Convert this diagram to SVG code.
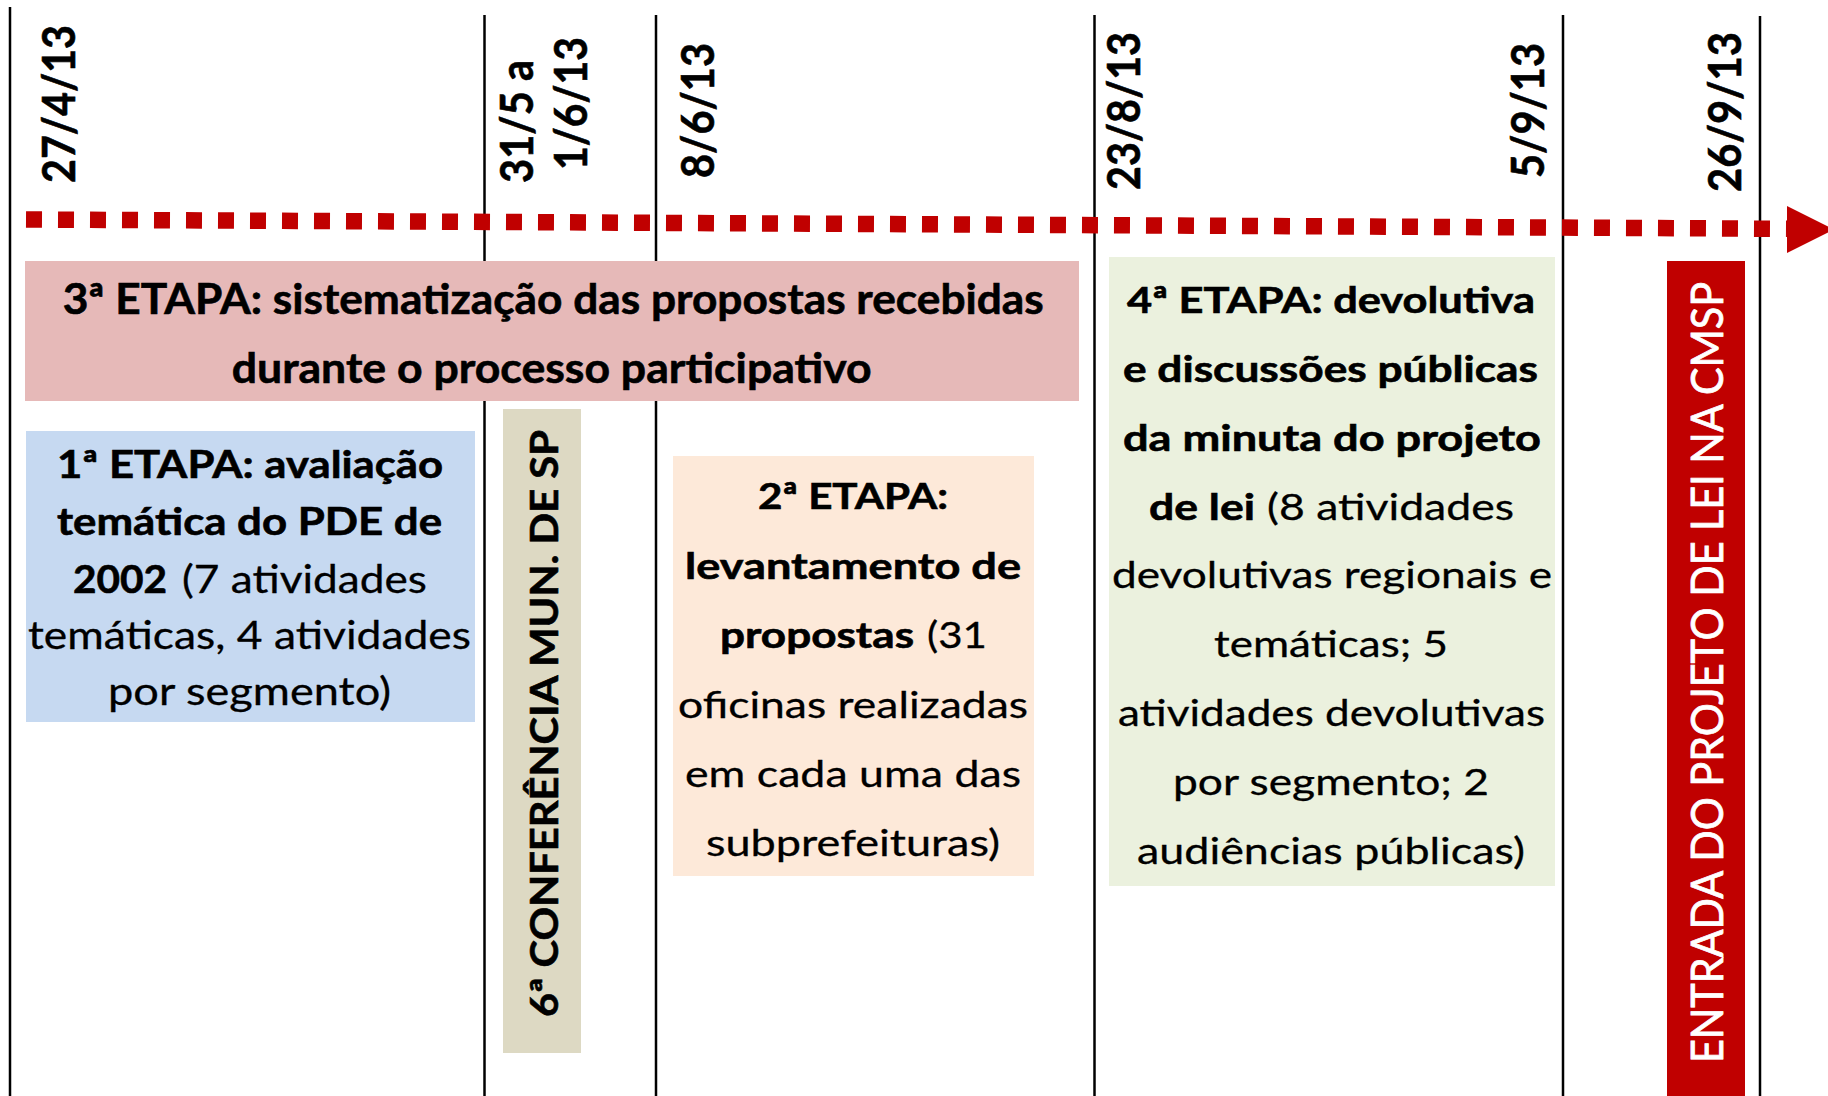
<svg xmlns="http://www.w3.org/2000/svg" width="1828" height="1096" viewBox="0 0 1828 1096">
<style>
.t{font-family:Lato,"Open Sans","Liberation Sans",sans-serif;fill:#000}
.b{font-weight:700;stroke:#000;stroke-width:0.6}
.r{font-weight:400;stroke:#000;stroke-width:0.3}
.vl{stroke:#000;stroke-width:2.5;fill:none}
</style>
<rect x="0" y="0" width="1828" height="1096" fill="#fff"/>
<g id="connectors">
  <line class="vl" x1="10" y1="7" x2="10" y2="1096"/>
  <line class="vl" x1="484.5" y1="15" x2="484.5" y2="1096"/>
  <line class="vl" x1="656" y1="15" x2="656" y2="1096"/>
  <line class="vl" x1="1094.5" y1="15" x2="1094.5" y2="1096"/>
  <line class="vl" x1="1563" y1="15" x2="1563" y2="1096"/>
  <line class="vl" x1="1760" y1="16" x2="1760" y2="1096"/>
  <line id="timeline" x1="26" y1="219.5" x2="1787" y2="228.8" stroke="#C00000" stroke-width="16.5" stroke-dasharray="16 16"/>
  <polygon id="arrowhead" points="1787,206 1787,253 1834,229.5" fill="#C00000"/>
</g>
<g id="dates" class="t b">
  <text transform="translate(75,183) rotate(-90)" font-size="46" textLength="158" lengthAdjust="spacingAndGlyphs">27/4/13</text>
  <text transform="translate(533,183) rotate(-90)" font-size="46" textLength="123" lengthAdjust="spacingAndGlyphs">31/5 a</text>
  <text transform="translate(587,170) rotate(-90)" font-size="46" textLength="133" lengthAdjust="spacingAndGlyphs">1/6/13</text>
  <text transform="translate(714,178) rotate(-90)" font-size="46" textLength="135" lengthAdjust="spacingAndGlyphs">8/6/13</text>
  <text transform="translate(1140,190) rotate(-90)" font-size="46" textLength="158" lengthAdjust="spacingAndGlyphs">23/8/13</text>
  <text transform="translate(1544,178) rotate(-90)" font-size="46" textLength="135" lengthAdjust="spacingAndGlyphs">5/9/13</text>
  <text transform="translate(1741,192) rotate(-90)" font-size="46" textLength="160" lengthAdjust="spacingAndGlyphs">26/9/13</text>
</g>
<g id="etapa3">
  <rect x="25" y="261" width="1054" height="140" fill="#E6B9B8"/>
  <text class="t b" x="62.7" y="314" font-size="42" textLength="981" lengthAdjust="spacingAndGlyphs">3ª ETAPA: sistematização das propostas recebidas</text>
  <text class="t b" x="231.7" y="383" font-size="42" textLength="640" lengthAdjust="spacingAndGlyphs">durante o processo participativo</text>
</g>
<g id="etapa1">
  <rect x="26" y="431" width="449" height="291" fill="#C6D9F1"/>
  <text class="t b" x="57" y="478" font-size="38" textLength="386" lengthAdjust="spacingAndGlyphs">1ª ETAPA: avaliação</text>
  <text class="t b" x="57" y="535" font-size="38" textLength="385" lengthAdjust="spacingAndGlyphs">temática do PDE de</text>
  <text class="t b" x="73" y="593" font-size="38" textLength="94" lengthAdjust="spacingAndGlyphs">2002</text>
  <text class="t r" x="182" y="593" font-size="38" textLength="245" lengthAdjust="spacingAndGlyphs">(7 atividades</text>
  <text class="t r" x="28" y="649" font-size="38" textLength="443" lengthAdjust="spacingAndGlyphs">temáticas, 4 atividades</text>
  <text class="t r" x="108" y="705" font-size="38" textLength="283" lengthAdjust="spacingAndGlyphs">por segmento)</text>
</g>
<g id="conferencia">
  <rect x="503" y="409" width="78" height="644" fill="#DDD9C3"/>
  <text class="t b" transform="translate(558,1017) rotate(-90)" font-size="39" textLength="587" lengthAdjust="spacingAndGlyphs">6ª CONFERÊNCIA MUN. DE SP</text>
</g>
<g id="etapa2">
  <rect x="673" y="456" width="361" height="420" fill="#FDE9D9"/>
  <text class="t b" x="758" y="509" font-size="37" textLength="190" lengthAdjust="spacingAndGlyphs">2ª ETAPA:</text>
  <text class="t b" x="685" y="579" font-size="37" textLength="336" lengthAdjust="spacingAndGlyphs">levantamento de</text>
  <text class="t b" x="720" y="648" font-size="37" textLength="194" lengthAdjust="spacingAndGlyphs">propostas</text>
  <text class="t r" x="927" y="648" font-size="37" textLength="60" lengthAdjust="spacingAndGlyphs">(31</text>
  <text class="t r" x="678" y="718" font-size="37" textLength="350" lengthAdjust="spacingAndGlyphs">oficinas realizadas</text>
  <text class="t r" x="685" y="787" font-size="37" textLength="336" lengthAdjust="spacingAndGlyphs">em cada uma das</text>
  <text class="t r" x="706" y="856" font-size="37" textLength="294" lengthAdjust="spacingAndGlyphs">subprefeituras)</text>
</g>
<g id="etapa4">
  <rect x="1109" y="257" width="446" height="629" fill="#EBF1DE"/>
  <text class="t b" x="1127" y="313" font-size="36.5" textLength="408" lengthAdjust="spacingAndGlyphs">4ª ETAPA: devolutiva</text>
  <text class="t b" x="1123" y="382" font-size="36.5" textLength="415" lengthAdjust="spacingAndGlyphs">e discussões públicas</text>
  <text class="t b" x="1123" y="451" font-size="36.5" textLength="418" lengthAdjust="spacingAndGlyphs">da minuta do projeto</text>
  <text class="t b" x="1149" y="520" font-size="36.5" textLength="106" lengthAdjust="spacingAndGlyphs">de lei</text>
  <text class="t r" x="1267" y="520" font-size="36.5" textLength="247" lengthAdjust="spacingAndGlyphs">(8 atividades</text>
  <text class="t r" x="1112" y="588" font-size="36.5" textLength="440" lengthAdjust="spacingAndGlyphs">devolutivas regionais e</text>
  <text class="t r" x="1214" y="657" font-size="36.5" textLength="234" lengthAdjust="spacingAndGlyphs">temáticas; 5</text>
  <text class="t r" x="1118" y="726" font-size="36.5" textLength="427" lengthAdjust="spacingAndGlyphs">atividades devolutivas</text>
  <text class="t r" x="1173" y="795" font-size="36.5" textLength="316" lengthAdjust="spacingAndGlyphs">por segmento; 2</text>
  <text class="t r" x="1137" y="864" font-size="36.5" textLength="388" lengthAdjust="spacingAndGlyphs">audiências públicas)</text>
</g>
<g id="entrada">
  <rect x="1667" y="261" width="78" height="835" fill="#C00000"/>
  <text transform="translate(1723,1063) rotate(-90)" font-family="Lato,'Open Sans','Liberation Sans',sans-serif" font-weight="400" fill="#fff" stroke="#fff" stroke-width="0.8" font-size="44" textLength="781" lengthAdjust="spacingAndGlyphs">ENTRADA DO PROJETO DE LEI NA CMSP</text>
</g>
</svg>
